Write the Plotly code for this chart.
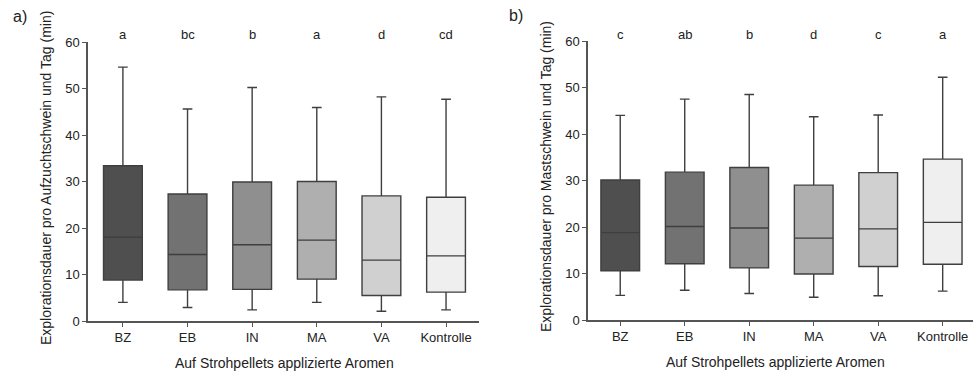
import plotly.graph_objects as go

# Treatments (flavours applied to straw pellets)
categories = ["BZ", "EB", "IN", "MA", "VA", "Kontrolle"]
fills = ["#4f4f4f", "#727272", "#8f8f8f", "#afafaf", "#d0d0d0", "#efefef"]

# a) Aufzuchtschweine: box statistics (min)
a_low = [4.0, 2.9, 2.4, 4.0, 2.1, 2.4]
a_q1 = [8.8, 6.7, 6.8, 9.0, 5.5, 6.2]
a_med = [18.0, 14.3, 16.4, 17.4, 13.1, 14.0]
a_q3 = [33.4, 27.3, 29.9, 30.0, 26.9, 26.6]
a_high = [54.6, 45.6, 50.2, 45.9, 48.2, 47.7]
a_letters = ["a", "bc", "b", "a", "d", "cd"]

# b) Mastschweine: box statistics (min)
b_low = [5.3, 6.4, 5.7, 4.9, 5.2, 6.2]
b_q1 = [10.6, 12.1, 11.2, 9.9, 11.5, 12.0]
b_med = [18.8, 20.1, 19.8, 17.6, 19.6, 21.0]
b_q3 = [30.1, 31.8, 32.8, 29.0, 31.7, 34.6]
b_high = [44.0, 47.5, 48.5, 43.7, 44.1, 52.2]
b_letters = ["c", "ab", "b", "d", "c", "a"]

y_ticks = [0, 10, 20, 30, 40, 50, 60]

W, H = 973, 373
FONT = "Liberation Sans, Arial, sans-serif"
TXT = "#222222"
AX = "#555555"

fig = go.Figure()


def add_panel(xa, ya, low, q1, med, q3, high):
    for i, cat in enumerate(categories):
        fig.add_trace(go.Box(
            x=[i], q1=[q1[i]], median=[med[i]], q3=[q3[i]],
            lowerfence=[low[i]], upperfence=[high[i]],
            width=0.6, whiskerwidth=0.25,
            fillcolor=fills[i],
            line=dict(color="#3f3f3f", width=1.4),
            boxpoints=False, showlegend=False, hoverinfo="skip",
            xaxis=xa, yaxis=ya,
        ))


add_panel("x", "y", a_low, a_q1, a_med, a_q3, a_high)
add_panel("x2", "y2", b_low, b_q1, b_med, b_q3, b_high)


def px_x(p):
    return p / W


def px_y(p):
    return 1 - p / H


xcommon = dict(
    tickmode="array", tickvals=list(range(6)), ticktext=categories,
    showline=True, linecolor=AX, linewidth=1.5, showgrid=False, zeroline=False,
    ticks="outside", ticklen=4, tickcolor=AX, tickwidth=1.3,
    tickfont=dict(family=FONT, size=13, color=TXT), automargin=False,
)
ycommon = dict(
    range=[0, 60], tickvals=y_ticks,
    showline=True, linecolor=AX, linewidth=1.5, showgrid=False, zeroline=False,
    ticks="outside", ticklen=4, tickcolor=AX, tickwidth=1.3,
    tickfont=dict(family=FONT, size=13, color=TXT), automargin=False,
)

fig.update_layout(
    width=W, height=H,
    margin=dict(l=0, r=0, t=0, b=0),
    paper_bgcolor="white", plot_bgcolor="white",
    boxmode="overlay",
    xaxis=dict(domain=[px_x(88), px_x(479)], range=[-0.54, 5.51], anchor="y", **xcommon),
    yaxis=dict(domain=[px_y(321), px_y(42)], anchor="x", **ycommon),
    xaxis2=dict(domain=[px_x(588), 1.0], range=[-0.5, 5.47], anchor="y2", **xcommon),
    yaxis2=dict(domain=[px_y(320), px_y(41)], anchor="x2", **ycommon),
)


def note(x, y, text, size, xref="paper", angle=0):
    return dict(x=x, y=y, xref=xref, yref="paper", text=text, showarrow=False,
                xanchor="center", yanchor="middle", textangle=angle,
                font=dict(family=FONT, size=size, color=TXT))


ann = []
# significance letters above each box
for i, t in enumerate(a_letters):
    ann.append(note(i, px_y(35), t, 13, xref="x"))
for i, t in enumerate(b_letters):
    ann.append(note(i, px_y(34), t, 13, xref="x2"))

# axis titles
ann.append(note(px_x(284), px_y(363), "Auf Strohpellets applizierte Aromen", 14))
ann.append(note(px_x(775), px_y(362), "Auf Strohpellets applizierte Aromen", 14))
ann.append(note(px_x(46), px_y(178), "Explorationsdauer pro Aufzuchtschwein und Tag (min)", 14, angle=-90))
ann.append(note(px_x(546), px_y(177), "Explorationsdauer pro Mastschwein und Tag (min)", 14, angle=-90))

# panel labels
ann.append(note(px_x(20), px_y(16), "a)", 16))
ann.append(note(px_x(516), px_y(15), "b)", 16))

fig.update_layout(annotations=ann)

fig.write_html("out.html")
